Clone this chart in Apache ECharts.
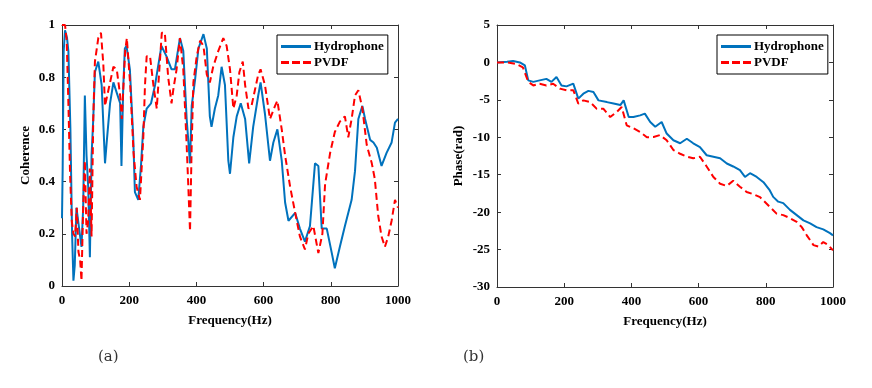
<!DOCTYPE html>
<html><head><meta charset="utf-8">
<script src="https://cdn.jsdelivr.net/npm/echarts@6/dist/echarts.min.js"></script>
<style>html,body{margin:0;padding:0;background:#fff}#c{width:872px;height:388px}</style>
</head><body><div id="c"></div>
<script>
// (a) Coherence - Hydrophone
const aHydroFreq = [0,2,5,9,15,19,25,30,34,38,43,48,53,58,63,68,73,78,83,88,93,98,108,118,128,133,143,153,163,173,177,182,187,192,202,212,217,227,235,242,252,265,277,296,311,326,336,351,361,371,381,386,396,406,421,431,440,445,455,465,475,485,495,500,510,520,532,545,557,569,584,591,604,619,629,641,654,664,674,694,708,723,738,753,763,773,788,803,812,827,842,862,872,882,894,902,917,927,937,951,966,981,991,1000];
const aHydroCoh = [0.26,0.45,0.9,0.98,0.95,0.9,0.6,0.2,0.02,0.08,0.3,0.25,0.2,0.15,0.3,0.73,0.5,0.38,0.11,0.5,0.64,0.82,0.86,0.77,0.47,0.55,0.7,0.78,0.74,0.7,0.46,0.75,0.91,0.92,0.83,0.57,0.36,0.33,0.46,0.61,0.68,0.7,0.77,0.92,0.88,0.83,0.83,0.95,0.9,0.64,0.47,0.69,0.79,0.91,0.965,0.91,0.65,0.61,0.68,0.73,0.84,0.77,0.48,0.43,0.57,0.65,0.70,0.64,0.47,0.61,0.73,0.78,0.66,0.48,0.55,0.6,0.48,0.32,0.25,0.28,0.22,0.17,0.23,0.47,0.46,0.22,0.22,0.126,0.068,0.15,0.23,0.33,0.44,0.64,0.69,0.64,0.56,0.55,0.53,0.46,0.51,0.55,0.626,0.64];
// (a) Coherence - PVDF
const aPvdfFreq = [0,9,14,19,24,29,34,39,44,49,54,58,63,68,73,78,83,88,93,98,108,116,123,128,138,153,163,173,178,188,193,203,213,222,232,242,247,252,262,272,282,297,306,316,326,331,341,351,361,371,376,381,386,391,401,411,421,431,440,450,465,480,490,500,510,520,528,538,545,555,564,574,584,591,604,619,634,641,654,664,679,694,708,723,733,748,763,775,783,798,812,827,842,852,862,872,882,894,907,922,931,941,951,961,971,981,991,1000];
const aPvdfCoh = [1.0,1.0,0.94,0.7,0.43,0.25,0.2,0.19,0.3,0.13,0.1,0.02,0.3,0.48,0.2,0.25,0.45,0.19,0.64,0.86,0.95,0.97,0.85,0.69,0.75,0.84,0.83,0.73,0.64,0.9,0.95,0.77,0.51,0.38,0.33,0.57,0.77,0.88,0.88,0.77,0.68,0.97,0.97,0.80,0.70,0.75,0.83,0.95,0.83,0.54,0.38,0.21,0.54,0.78,0.88,0.94,0.92,0.81,0.78,0.84,0.9,0.95,0.92,0.83,0.68,0.73,0.82,0.86,0.77,0.68,0.69,0.75,0.81,0.83,0.77,0.64,0.69,0.71,0.60,0.50,0.38,0.28,0.19,0.14,0.2,0.23,0.126,0.2,0.39,0.51,0.59,0.63,0.65,0.57,0.64,0.73,0.75,0.68,0.54,0.47,0.41,0.27,0.19,0.15,0.19,0.25,0.33,0.30];
// (b) Phase - Hydrophone
const bHydroFreq = [0,30,48,68,83,93,108,127,147,162,177,192,207,227,242,257,272,287,302,327,347,367,377,392,406,426,440,456,471,490,505,525,545,565,584,604,624,644,664,684,703,723,738,753,773,793,812,822,837,852,872,892,912,932,951,971,991,1000];
const bHydroPhase = [0,0.1,0.2,0,-0.4,-2.4,-2.6,-2.4,-2.2,-2.6,-1.95,-3.07,-3.2,-2.84,-4.84,-4.18,-3.8,-3.96,-5.07,-5.3,-5.5,-5.7,-5.07,-7.3,-7.3,-7.07,-6.84,-7.96,-8.6,-7.96,-9.5,-10.4,-10.8,-10.2,-10.8,-11.3,-12.4,-12.6,-12.8,-13.5,-13.9,-14.4,-15.3,-14.8,-15.3,-16.0,-17.1,-17.96,-18.6,-18.8,-19.7,-20.4,-21.1,-21.5,-22.0,-22.3,-22.8,-23.1];
// (b) Phase - PVDF
const bPvdfFreq = [0,30,57,77,93,108,127,147,167,187,207,227,242,257,277,297,317,337,357,371,386,406,426,446,466,485,505,525,545,565,584,604,624,644,664,684,703,723,743,763,783,812,832,852,872,892,907,922,942,956,971,986,1000];
const bPvdfPhase = [0,0,-0.2,-0.67,-2.6,-3.07,-2.84,-3.07,-2.84,-3.5,-3.73,-3.7,-5.5,-5.07,-5.3,-6.2,-6.2,-7.3,-6.6,-5.96,-8.4,-8.8,-9.3,-10.0,-9.96,-9.7,-10.4,-11.7,-12.2,-12.6,-12.8,-12.6,-13.9,-15.3,-16.2,-16.5,-15.8,-16.6,-17.3,-17.6,-18.0,-19.3,-20.2,-20.4,-20.8,-21.3,-22.0,-23.1,-24.4,-24.6,-24.0,-24.4,-25.1];

const seriesNames = ['Hydrophone','PVDF'];
const panelLabels = ['(a)','(b)'];
const axisTitles = {aX:'Frequency(Hz)', aY:'Coherence', bX:'Frequency(Hz)', bY:'Phase(rad)'};

const zip = (a,b) => a.map((v,i)=>[v,b[i]]);
const FONT = 'Liberation Serif';
const lab = {fontFamily:FONT, fontWeight:'bold', fontSize:13, color:'#000'};
const BLUE = '#0072BD', RED = '#FF0000';
const fmt = v => String(Math.round(v*10)/10);

function xAx(g, pos){
  return {type:'value', gridIndex:g, min:0, max:1000, interval:200, position:pos,
    axisLine:{show:true, onZero:false, lineStyle:{color:'#333', width:1}},
    axisTick:{show:true, inside:true, length:4, lineStyle:{color:'#333'}},
    axisLabel: pos==='bottom' ? Object.assign({margin:8, formatter:fmt}, lab) : {show:false},
    splitLine:{show:false},
    name: pos==='bottom' ? (g===0?axisTitles.aX:axisTitles.bX) : '',
    nameLocation:'middle', nameGap:28, nameTextStyle:lab};
}
function yAx(g, pos, min, max, interval, name, gap){
  return {type:'value', gridIndex:g, min:min, max:max, interval:interval, position:pos,
    axisLine:{show:true, onZero:false, lineStyle:{color:'#333', width:1}},
    axisTick:{show:true, inside:true, length:4, lineStyle:{color:'#333'}},
    axisLabel: pos==='left' ? Object.assign({margin:7, formatter:fmt}, lab) : {show:false},
    splitLine:{show:false},
    name: pos==='left' ? name : '', nameLocation:'middle', nameGap:gap, nameRotate:90, nameTextStyle:lab};
}
function legendAt(left){
  return {left:left, top:35, orient:'vertical', itemGap:3, itemWidth:30, itemHeight:3,
    padding:[5,4,5,4], borderColor:'#000', borderWidth:1, backgroundColor:'#fff',
    textStyle:{fontFamily:FONT, fontWeight:'bold', fontSize:13, color:'#000', padding:[0,0,0,-2]},
    data:[
      {name:seriesNames[0], icon:'path://M0,0h30v3h-30z', itemStyle:{color:BLUE}},
      {name:seriesNames[1], icon:'path://M0,0h8v3h-8zM11,0h8v3h-8zM22,0h8v3h-8z', itemStyle:{color:RED}}
    ]};
}
const line = (name, data, xi, yi, color, dashed) => ({
  name:name, type:'line', xAxisIndex:xi, yAxisIndex:yi, data:data, showSymbol:false, symbol:'none',
  lineStyle:{color:color, width:2, type: dashed ? [7,4] : 'solid'}, itemStyle:{color:color},
  animation:false, z: dashed?3:2
});

const chart = echarts.init(document.getElementById('c'), null, {renderer:'canvas'});
chart.setOption({
  backgroundColor:'#fff',
  animation:false,
  grid:[
    {left:62, top:25, width:336, height:261, show:false},
    {left:497, top:25, width:336, height:262, show:false}
  ],
  xAxis:[xAx(0,'bottom'), xAx(0,'top'), xAx(1,'bottom'), xAx(1,'top')],
  yAxis:[
    yAx(0,'left',0,1,0.2,axisTitles.aY,30), yAx(0,'right',0,1,0.2,'',0),
    yAx(1,'left',-30,5,5,axisTitles.bY,32), yAx(1,'right',-30,5,5,'',0)
  ],
  legend:[legendAt(277), legendAt(717)],
  series:[
    line(seriesNames[0], zip(aHydroFreq,aHydroCoh), 0, 0, BLUE, false),
    line(seriesNames[1], zip(aPvdfFreq,aPvdfCoh), 0, 0, RED, true),
    line(seriesNames[0], zip(bHydroFreq,bHydroPhase), 2, 2, BLUE, false),
    line(seriesNames[1], zip(bPvdfFreq,bPvdfPhase), 2, 2, RED, true)
  ],
  graphic:[
    {type:'text', left:98, top:350, style:{text:panelLabels[0], font:'15px "DejaVu Serif"', fill:'#333'}},
    {type:'text', left:463, top:350, style:{text:panelLabels[1], font:'15px "DejaVu Serif"', fill:'#333'}}
  ]
});
</script></body></html>
